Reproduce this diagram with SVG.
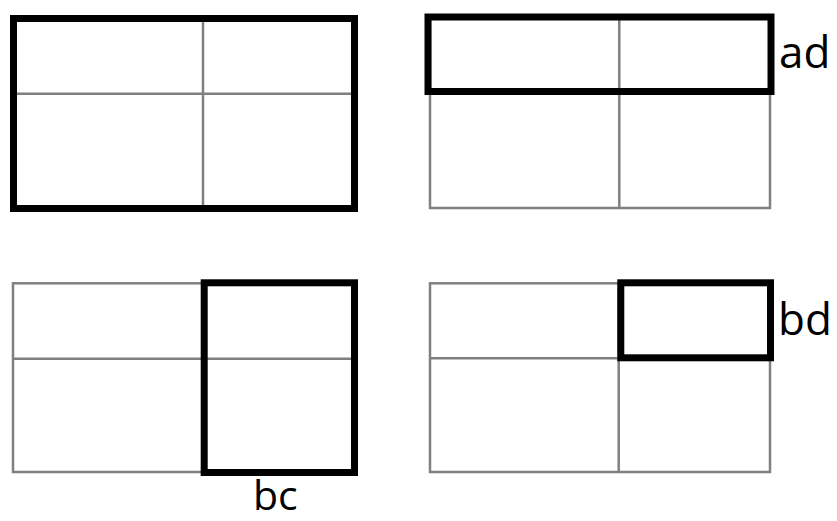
<svg xmlns="http://www.w3.org/2000/svg" width="837" height="521" viewBox="0 0 837 521">
<style>
.grid{fill:none;stroke:#808080;stroke-width:2.5}
.sel{fill:none;stroke:#000;stroke-width:7}
.lbl{font-family:"Open Sans","Noto Sans",sans-serif;font-size:44px;fill:#000}
</style>
<rect width="837" height="521" fill="#fff"/>
<g id="panel-full">
<rect class="grid" x="13.5" y="18.5" width="341" height="190"/>
<line class="grid" x1="203" y1="18.5" x2="203" y2="208.5"/>
<line class="grid" x1="13.5" y1="93.7" x2="354.5" y2="93.7"/>
<rect class="sel" x="13.5" y="18.5" width="341" height="190"/>
</g>
<g id="panel-ad">
<rect class="grid" x="430" y="17" width="340" height="191"/>
<line class="grid" x1="619.3" y1="17" x2="619.3" y2="208"/>
<line class="grid" x1="430" y1="91.5" x2="770" y2="91.5"/>
<rect class="sel" x="428" y="17" width="343" height="74.5"/>
<text class="lbl" x="779" y="68">ad</text>
</g>
<g id="panel-bc">
<rect class="grid" x="13" y="283.3" width="341" height="188.7"/>
<line class="grid" x1="204" y1="283.3" x2="204" y2="472"/>
<line class="grid" x1="13" y1="358.7" x2="354" y2="358.7"/>
<rect class="sel" x="204.2" y="282.8" width="150.3" height="189.7"/>
<text class="lbl" x="253" y="510" style="font-size:41px">bc</text>
</g>
<g id="panel-bd">
<rect class="grid" x="430" y="283.3" width="340" height="188.7"/>
<line class="grid" x1="618.7" y1="283.3" x2="618.7" y2="472"/>
<line class="grid" x1="430" y1="358.3" x2="770" y2="358.3"/>
<rect class="sel" x="620.8" y="282.8" width="149.7" height="75"/>
<text class="lbl" x="778" y="335">bd</text>
</g>
</svg>
